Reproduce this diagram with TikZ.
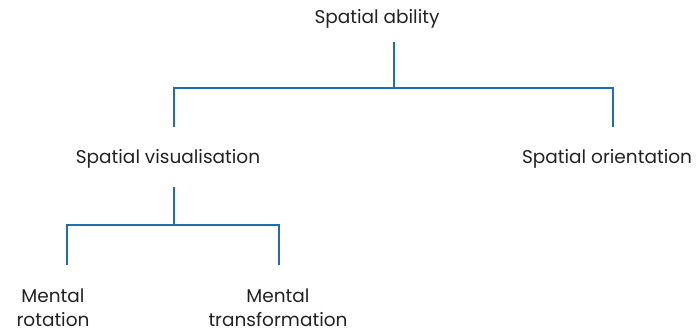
\documentclass[tikz,border=0pt]{standalone}
\usepackage{fontspec}
\setmainfont{Poppins}
\definecolor{linecol}{RGB}{30,110,180}
\definecolor{txtcol}{RGB}{34,34,34}
\begin{document}
\begin{tikzpicture}[x=1pt,y=-1pt,
  lbl/.style={text=txtcol,font=\fontsize{18.5}{24}\selectfont,inner sep=0pt,align=center},
  conn/.style={draw=linecol,line width=2.8pt}]
\useasboundingbox (0,0) rectangle (696,331);
\node[lbl] (sa) at (377,19) {Spatial ability};
\node[lbl] (sv) at (168,159) {Spatial visualisation};
\node[lbl] (so) at (607,159) {Spatial orientation};
\node[lbl,text depth=0pt,anchor=south] (mr) at (53,327) {Mental\\rotation};
\node[lbl,text depth=0pt,anchor=south] (mt) at (278,327) {Mental\\transformation};
% junction coordinates
\coordinate (saStem) at (394,42);
\coordinate (j1) at (394,88);
\coordinate (svTop) at (174,127);
\coordinate (soTop) at (613,127);
\coordinate (svStem) at (174,187);
\coordinate (j2) at (174,225);
\coordinate (mrTop) at (67,265);
\coordinate (mtTop) at (279,265);
\draw[conn] (saStem) -- (j1);
\draw[conn] (svTop) -- (svTop |- j1) -- (soTop |- j1) -- (soTop);
\draw[conn] (svStem) -- (j2);
\draw[conn] (mrTop) -- (mrTop |- j2) -- (mtTop |- j2) -- (mtTop);
\end{tikzpicture}
\end{document}
